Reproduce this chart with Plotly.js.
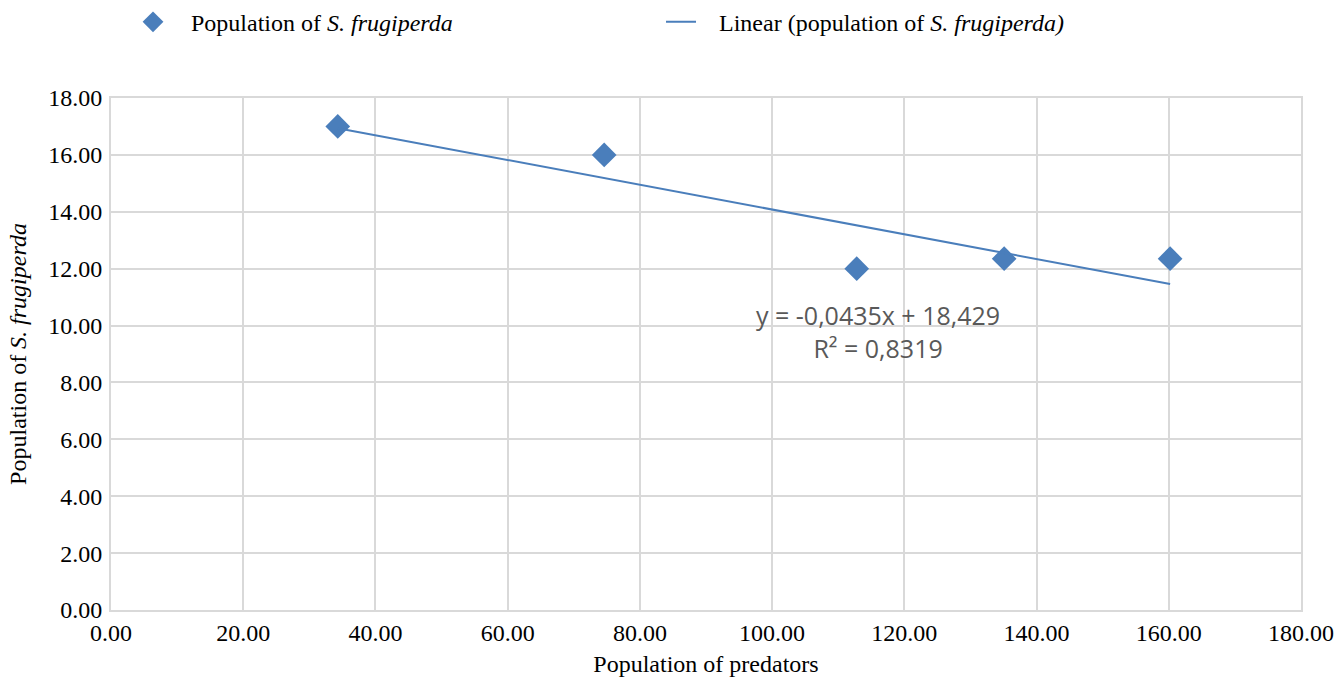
<!DOCTYPE html>
<html>
<head>
<meta charset="utf-8">
<script src="https://cdn.plot.ly/plotly-3.0.1.min.js"></script>
<style>html,body{margin:0;padding:0;background:#fff;}#chart{width:1343px;height:679px;}</style>
</head>
<body>
<div id="chart"></div>
<script>
// Data
const predators = [34.3, 74.6, 112.8, 135.1, 160.2];
const frugiperda = [17.0, 16.0, 12.0, 12.35, 12.35];
// Excel linear trendline coefficients shown on chart
const trendSlope = -0.0435;
const trendIntercept = 18.429;
const equationText = ["y = -0,0435x + 18,429", "R² = 0,8319"];
const xTicks = [0, 20, 40, 60, 80, 100, 120, 140, 160, 180];
const yTicks = [0, 2, 4, 6, 8, 10, 12, 14, 16, 18];

const xMin = Math.min(...predators), xMax = Math.max(...predators);
const trendX = [xMin, xMax];
const trendY = trendX.map(x => trendSlope * x + trendIntercept);

const serif = "Liberation Serif, DejaVu Serif, Times New Roman, serif";
const gridColor = "#d9d9d9";
const fs = 24;

const traces = [
  {
    x: predators, y: frugiperda, type: "scatter", mode: "markers",
    name: "&nbsp;&nbsp;&nbsp;Population of <i>S. frugiperda</i>",
    marker: {symbol: "diamond", size: 19, color: "#4a7ebb", line: {width: 0}}
  },
  {
    x: trendX, y: trendY, type: "scatter", mode: "lines",
    name: "&nbsp;&nbsp;&nbsp;Linear (population of <i>S. frugiperda)</i>",
    line: {color: "#4a7ebb", width: 2}
  }
];

const layout = {
  width: 1343, height: 679,
  margin: {l: 111, r: 42, t: 98, b: 69, autoexpand: false},
  paper_bgcolor: "#fff", plot_bgcolor: "#fff",
  font: {family: serif, size: fs, color: "#000"},
  showlegend: true,
  legend: {
    orientation: "h", x: 0.0185, xanchor: "left", y: 1.148, yanchor: "middle",
    font: {family: serif, size: fs, color: "#000"},
    entrywidth: 483, entrywidthmode: "pixels", bgcolor: "rgba(0,0,0,0)"
  },
  xaxis: {
    range: [0, 180], tickvals: xTicks, ticktext: xTicks.map(v => v.toFixed(2)),
    showgrid: true, gridcolor: gridColor, gridwidth: 2,
    zeroline: false, showline: true, linecolor: gridColor, linewidth: 2, mirror: true,
    ticks: "", tickfont: {family: serif, size: fs, color: "#000"},
    title: {text: "Population of predators", font: {family: serif, size: fs, color: "#000"}, standoff: 10}
  },
  yaxis: {
    range: [0, 18], tickvals: yTicks, ticktext: yTicks.map(v => v.toFixed(2)),
    showgrid: true, gridcolor: gridColor, gridwidth: 2,
    zeroline: false, showline: true, linecolor: gridColor, linewidth: 2, mirror: true,
    ticks: "", ticklabelstandoff: 2, tickfont: {family: serif, size: fs, color: "#000"},
    title: {text: "Population of <i>S. frugiperda</i>", font: {family: serif, size: fs, color: "#000"}, standoff: 15}
  },
  annotations: [{
    x: 116, y: 9.8, xref: "x", yref: "y",
    text: equationText.join("<br>"), showarrow: false,
    font: {family: "Open Sans, Noto Sans, sans-serif", size: 25, color: "#595959"},
    align: "center"
  }]
};

Plotly.newPlot("chart", traces, layout, {displayModeBar: false, staticPlot: true});
</script>
</body>
</html>
